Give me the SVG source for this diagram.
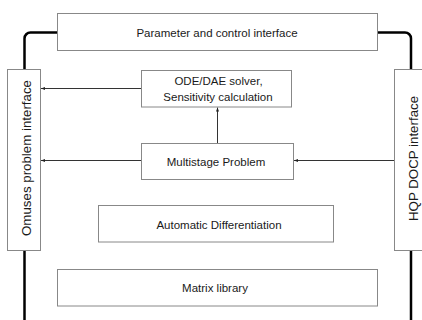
<svg xmlns="http://www.w3.org/2000/svg" width="422" height="320" viewBox="0 0 422 320">
<defs>
<style>
.box{fill:#fff;stroke:#888;stroke-width:1}
.t{font-family:"Liberation Sans",Arial,sans-serif;font-size:11.5px;fill:#1a1a1a;text-anchor:middle}
.tv{font-family:"Liberation Sans",Arial,sans-serif;font-size:13.3px;fill:#1a1a1a;text-anchor:middle}
.thick{fill:none;stroke:#000;stroke-width:2.5}
.fine{fill:none;stroke:#333;stroke-width:1}
</style>
<marker id="ah" markerUnits="userSpaceOnUse" markerWidth="5" markerHeight="4" refX="4" refY="2" orient="auto">
<path d="M0,0.5 L4,2 L0,3.5 Z" fill="#222"/>
</marker>
</defs>
<rect width="422" height="320" fill="#fff"/>
<g id="connectors">
<path class="thick" d="M57.5,32.5 H30.5 A6,6 0 0 0 24.5,38.5 V69.5"/>
<path class="thick" d="M24.5,250.5 V320"/>
<path class="thick" d="M377.5,32.5 H405 A6,6 0 0 1 411,38.5 V69.5"/>
<path class="thick" d="M411,250.5 V320"/>
<path class="fine" d="M141.5,88.5 H41" marker-end="url(#ah)"/>
<path class="fine" d="M141.5,160.5 H41" marker-end="url(#ah)"/>
<path class="fine" d="M217.5,143.5 V107.5" marker-end="url(#ah)"/>
<path class="fine" d="M394.5,160.5 H294" marker-end="url(#ah)"/>
</g>
<g id="param">
<rect class="box" x="57.5" y="13.5" width="320" height="37"/>
<text class="t" x="217" y="37">Parameter and control interface</text>
</g>
<g id="omuses">
<rect class="box" x="7.5" y="69.5" width="33" height="181"/>
<text class="tv" transform="translate(30.8,158) rotate(-90)">Omuses problem interface</text>
</g>
<g id="hqp">
<rect class="box" x="394.5" y="69.5" width="35" height="181"/>
<text class="tv" transform="translate(418.3,158.5) rotate(-90)">HQP DOCP interface</text>
</g>
<g id="ode">
<rect class="box" x="141.5" y="70.5" width="150" height="36.5"/>
<text class="t" x="218.5" y="85">ODE/DAE solver,</text>
<text class="t" x="218" y="101">Sensitivity calculation</text>
</g>
<g id="multistage">
<rect class="box" x="141.5" y="143.5" width="152" height="36"/>
<text class="t" x="216" y="166">Multistage Problem</text>
</g>
<g id="autodiff">
<rect class="box" x="98.5" y="205.5" width="235" height="36.5"/>
<text class="t" x="219" y="229">Automatic Differentiation</text>
</g>
<g id="matrix">
<rect class="box" x="57.5" y="269.5" width="320" height="36.5"/>
<text class="t" x="215" y="291.5">Matrix library</text>
</g>
</svg>
